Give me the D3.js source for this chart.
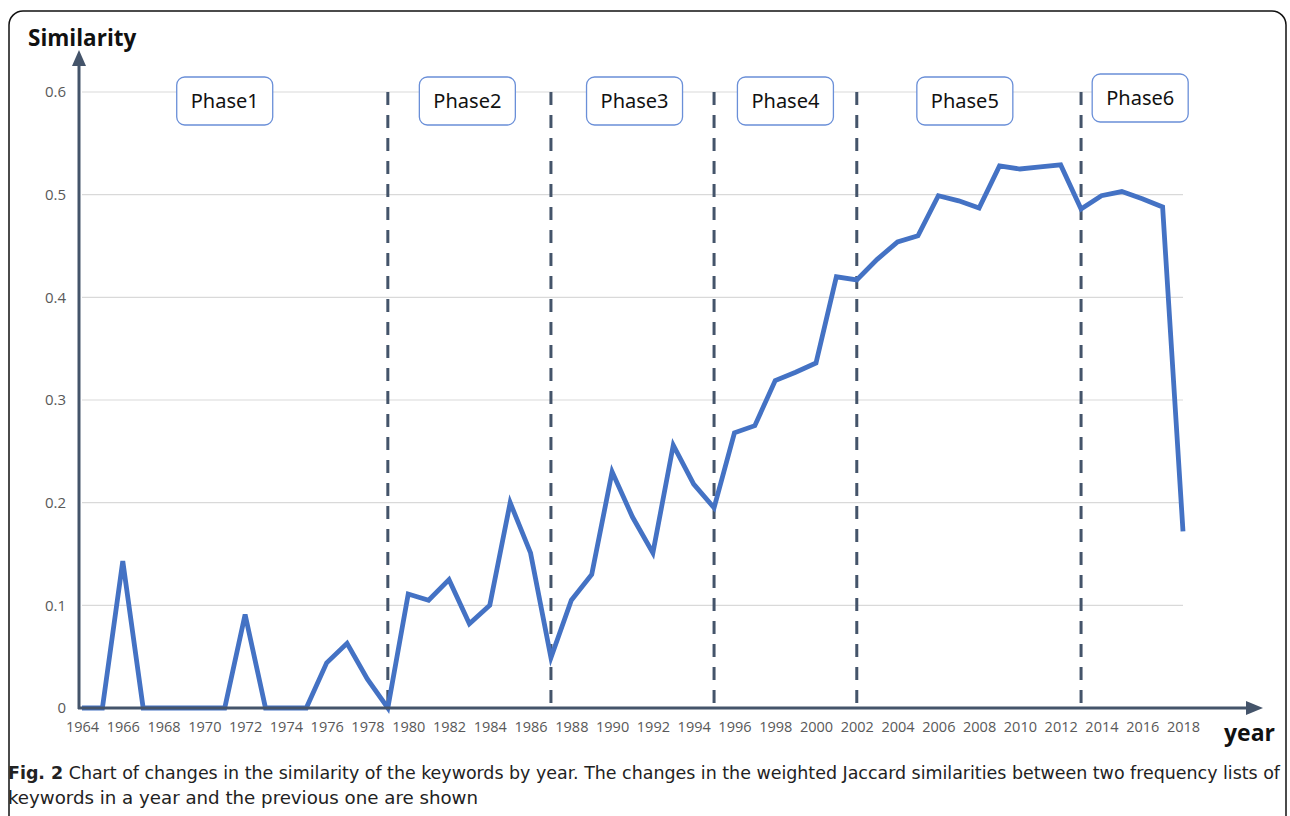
<!DOCTYPE html>
<html>
<head>
<meta charset="utf-8">
<script src="https://cdn.jsdelivr.net/npm/d3@7"></script>
<style>
  html, body { margin: 0; padding: 0; background: #fff; }
  svg { display: block; }
</style>
</head>
<body>
<svg id="chart" width="1290" height="816"></svg>
<script>
// similarity per year (weighted Jaccard, year vs previous year)
var years = d3.range(1964, 2019);
var similarity = [
  0, 0, 0.143, 0, 0, 0, 0, 0, 0.091, 0,
  0, 0, 0.044, 0.063, 0.028, 0, 0.111, 0.105, 0.125, 0.082,
  0.100, 0.200, 0.151, 0.049, 0.105, 0.130, 0.230, 0.186, 0.151, 0.256,
  0.218, 0.195, 0.268, 0.275, 0.319, 0.327, 0.336, 0.420, 0.417, 0.437,
  0.454, 0.460, 0.499, 0.494, 0.487, 0.528, 0.525, 0.527, 0.529, 0.486,
  0.499, 0.503, 0.496, 0.488, 0.172
];
var yTicks = [0, 0.1, 0.2, 0.3, 0.4, 0.5, 0.6];
var xTicks = d3.range(1964, 2019, 2);
var phaseBreaks = [1979, 1987, 1995, 2002, 2013];
var phaseNames = ["Phase1", "Phase2", "Phase3", "Phase4", "Phase5", "Phase6"];
var phaseCenters = [1971, 1982.9, 1991.1, 1998.5, 2007.3, 2015.9];

var svg = d3.select("#chart");
var axisCol = "#44546a", lineCol = "#4472c4";

var x = d3.scaleLinear().domain([1964, 2018]).range([82, 1183]);
var y = d3.scaleLinear().domain([0, 0.6]).range([708, 92]);

// outer frame
svg.append("rect")
  .attr("x", 9).attr("y", 11).attr("width", 1277).attr("height", 840)
  .attr("rx", 14)
  .attr("fill", "none").attr("stroke", "#111").attr("stroke-width", 1.5);

// gridlines
svg.append("g").selectAll("line")
  .data(yTicks.filter(function(d) { return d > 0; }))
  .enter().append("line")
  .attr("x1", x(1964)).attr("x2", x(2018))
  .attr("y1", function(d) { return y(d); }).attr("y2", function(d) { return y(d); })
  .attr("stroke", "#d9d9d9").attr("stroke-width", 1.2);

// y labels
var yAxis = svg.append("g")
  .attr("transform", "translate(66,0)")
  .call(d3.axisLeft(y).tickValues(yTicks).tickSize(0).tickPadding(0)
    .tickFormat(function(d) { return d === 0 ? "0" : d3.format(".1f")(d); }));
yAxis.select(".domain").remove();
yAxis.selectAll("text")
  .attr("font-family", "'Open Sans', 'Noto Sans', sans-serif")
  .attr("font-size", 15).attr("fill", "#595959");

// x labels
var xAxis = svg.append("g")
  .attr("transform", "translate(0,708)")
  .call(d3.axisBottom(x).tickValues(xTicks).tickSize(0).tickPadding(14)
    .tickFormat(d3.format("d")));
xAxis.select(".domain").remove();
xAxis.selectAll("text")
  .attr("font-family", "'Open Sans', 'Noto Sans', sans-serif")
  .attr("font-size", 14.5).attr("fill", "#595959");

// phase separators
svg.append("g").selectAll("line")
  .data(phaseBreaks)
  .enter().append("line")
  .attr("x1", function(d) { return x(d); }).attr("x2", function(d) { return x(d); })
  .attr("y1", y(0.6)).attr("y2", y(0))
  .attr("stroke", axisCol).attr("stroke-width", 3)
  .attr("stroke-dasharray", "13,10");

// the series
var line = d3.line()
  .x(function(d, i) { return x(years[i]); })
  .y(function(d) { return y(d); });

svg.append("path")
  .datum(similarity)
  .attr("d", line)
  .attr("fill", "none")
  .attr("stroke", lineCol)
  .attr("stroke-width", 4.8)
  .attr("stroke-linejoin", "miter");

// axes with arrows
svg.append("line")
  .attr("x1", 79).attr("x2", 79).attr("y1", 709).attr("y2", 64)
  .attr("stroke", axisCol).attr("stroke-width", 3);
svg.append("path")
  .attr("d", "M79,50 L72,66 L86,66 Z").attr("fill", axisCol);
svg.append("line")
  .attr("x1", 78).attr("x2", 1248).attr("y1", 708).attr("y2", 708)
  .attr("stroke", axisCol).attr("stroke-width", 3);
svg.append("path")
  .attr("d", "M1263,708 L1246,701 L1246,715 Z").attr("fill", axisCol);

// axis titles
svg.append("text")
  .attr("x", 28).attr("y", 46)
  .attr("font-family", "'Open Sans', 'Noto Sans', sans-serif")
  .attr("font-weight", "bold").attr("font-size", 22.5).attr("fill", "#111")
  .text("Similarity");
svg.append("text")
  .attr("x", 1224).attr("y", 741)
  .attr("font-family", "'Open Sans', 'Noto Sans', sans-serif")
  .attr("font-weight", "bold").attr("font-size", 23).attr("fill", "#111")
  .text("year");

// phase boxes
var phases = svg.append("g").selectAll("g")
  .data(phaseNames)
  .enter().append("g")
  .attr("transform", function(d, i) {
    return "translate(" + x(phaseCenters[i]) + "," + (i === 5 ? 98 : 101) + ")";
  });
phases.append("rect")
  .attr("x", -48).attr("y", -24).attr("width", 96).attr("height", 48)
  .attr("rx", 8)
  .attr("fill", "#fff").attr("stroke", "#6a8fd8").attr("stroke-width", 1.3);
phases.append("text")
  .attr("text-anchor", "middle").attr("dy", "0.36em")
  .attr("font-family", "'Noto Sans', 'Open Sans', sans-serif")
  .attr("font-size", 20).attr("fill", "#111")
  .text(function(d) { return d; });

// caption
var cap = svg.append("g")
  .attr("font-family", "'Liberation Sans Narrow', 'DejaVu Sans Condensed', sans-serif")
  .attr("font-size", 17.5).attr("fill", "#222");
var c1 = cap.append("text").attr("x", 8).attr("y", 779)
  .attr("textLength", 1272).attr("lengthAdjust", "spacingAndGlyphs");
c1.append("tspan").attr("font-weight", "bold").text("Fig. 2");
c1.append("tspan").text(" Chart of changes in the similarity of the keywords by year. The changes in the weighted Jaccard similarities between two frequency lists of");
cap.append("text").attr("x", 8).attr("y", 804)
  .attr("textLength", 470).attr("lengthAdjust", "spacingAndGlyphs")
  .text("keywords in a year and the previous one are shown");
</script>
</body>
</html>
